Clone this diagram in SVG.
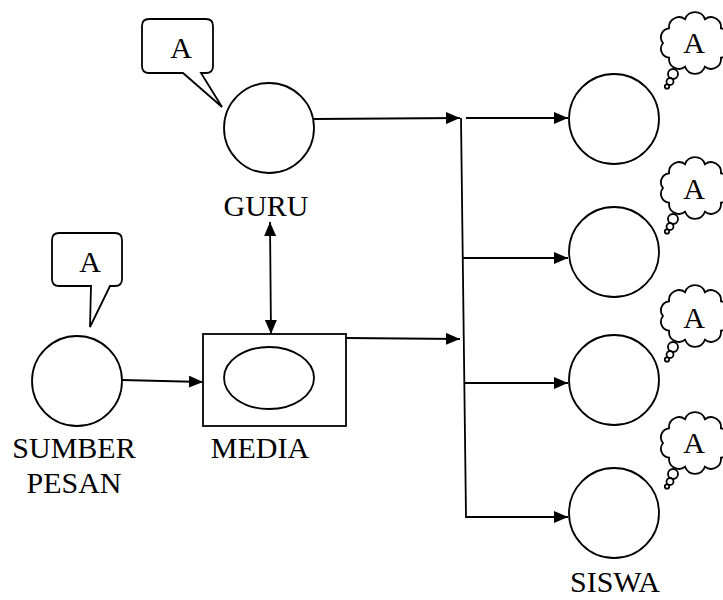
<svg xmlns="http://www.w3.org/2000/svg" width="723" height="600" viewBox="0 0 723 600">
<style>
.s{fill:#fff;stroke:#000;stroke-width:1.8}
.l{fill:none;stroke:#000;stroke-width:1.8}
.t{font-family:"Liberation Serif","Times New Roman",serif;font-size:30px;fill:#000;text-anchor:middle}
</style>
<defs>
<marker id="ah" viewBox="0 0 14 12" refX="14" refY="6" markerWidth="14" markerHeight="12" markerUnits="userSpaceOnUse" orient="auto-start-reverse">
<path d="M0,0 L14,6 L0,12 Z" fill="#000"/>
</marker>
<g id="cloud">
<path class="s" d="M32,0 A9,9 0 0 1 25.9,14.7 A10,10 0 0 1 9.9,23.8 A10.5,10.5 0 0 1 -9.9,23.8 A10,10 0 0 1 -25.9,14.7 A9,9 0 0 1 -32,0 A9,9 0 0 1 -25.9,-14.7 A10,10 0 0 1 -9.9,-23.8 A10.5,10.5 0 0 1 9.9,-23.8 A10,10 0 0 1 25.9,-14.7 A9,9 0 0 1 32,0 Z"/>
<circle class="s" cx="-22" cy="31" r="5"/>
<circle class="s" cx="-25" cy="38.5" r="3.5"/>
<circle class="s" cx="-28" cy="43.5" r="2.2"/>
</g>
</defs>
<rect width="723" height="600" fill="#fff"/>

<g id="connectors">
<line class="l" x1="314" y1="119" x2="460" y2="118" marker-end="url(#ah)"/>
<line class="l" x1="346" y1="338" x2="460" y2="339" marker-end="url(#ah)"/>
<line class="l" x1="122" y1="380" x2="203" y2="382" marker-end="url(#ah)"/>
<line class="l" x1="270" y1="222" x2="271" y2="334" marker-start="url(#ah)" marker-end="url(#ah)"/>
<polyline class="l" points="461,118 466,517 568,517" marker-end="url(#ah)"/>
<line class="l" x1="466" y1="118" x2="568" y2="118" marker-end="url(#ah)"/>
<line class="l" x1="463" y1="258" x2="568" y2="258" marker-end="url(#ah)"/>
<line class="l" x1="464" y1="383" x2="568" y2="383" marker-end="url(#ah)"/>
</g>

<g id="guru">
<circle class="s" cx="269" cy="128" r="45"/>
<text class="t" x="266" y="216">GURU</text>
</g>
<g id="guru-bubble">
<path class="s" d="M149,19 H206 Q213,19 213,26 V66 Q213,73 206,73 H201 L222,107 L183,73 H149 Q142,73 142,66 V26 Q142,19 149,19 Z"/>
<text class="t" x="181" y="58">A</text>
</g>

<g id="sumber">
<circle class="s" cx="77" cy="381" r="45"/>
<text class="t" x="74" y="458">SUMBER</text>
<text class="t" x="74" y="493">PESAN</text>
</g>
<g id="sumber-bubble">
<path class="s" d="M59,233 H115 Q122,233 122,240 V279 Q122,286 115,286 H110 L90,327 L91,286 H59 Q52,286 52,279 V240 Q52,233 59,233 Z"/>
<text class="t" x="90" y="272">A</text>
</g>

<g id="media">
<rect class="s" x="203" y="334" width="143" height="92"/>
<ellipse class="s" cx="269" cy="378" rx="45" ry="31"/>
<text class="t" x="260" y="458">MEDIA</text>
</g>

<g id="siswa1">
<circle class="s" cx="614" cy="119" r="45"/>
<use href="#cloud" x="695" y="43"/>
<text class="t" x="694" y="53">A</text>
</g>
<g id="siswa2">
<circle class="s" cx="614" cy="252" r="45"/>
<use href="#cloud" x="695" y="188"/>
<text class="t" x="694" y="199">A</text>
</g>
<g id="siswa3">
<circle class="s" cx="614" cy="380" r="45"/>
<use href="#cloud" x="695" y="316"/>
<text class="t" x="694" y="328">A</text>
</g>
<g id="siswa4">
<circle class="s" cx="614" cy="513" r="45"/>
<use href="#cloud" x="695" y="443"/>
<text class="t" x="694" y="453">A</text>
<text class="t" x="615" y="592">SISWA</text>
</g>
</svg>
